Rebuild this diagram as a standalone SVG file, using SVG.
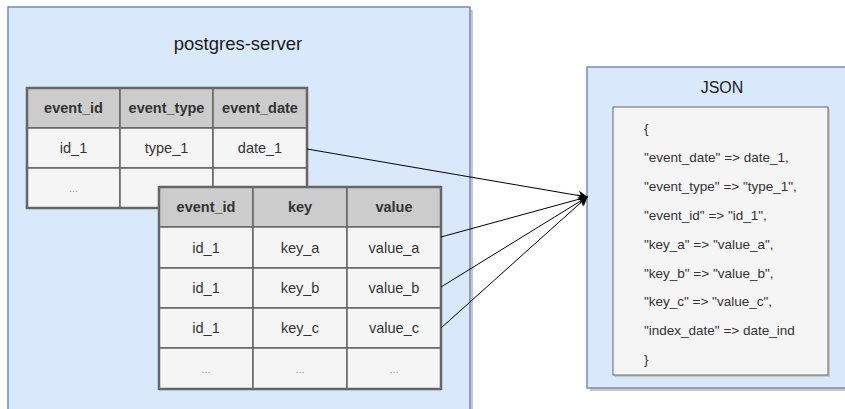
<svg xmlns="http://www.w3.org/2000/svg" width="845" height="409" viewBox="0 0 845 409">
  <style>
    .container { fill: #dae8fc; stroke: #6c8ebf; stroke-width: 1.5; }
    .shadow { fill: #c8c8c8; }
    .hdr { fill: #cccccc; stroke: #666666; stroke-width: 1.5; }
    .cell { fill: #f5f5f5; stroke: #666666; stroke-width: 1.5; }
    .frame { fill: none; stroke: #666666; stroke-width: 2.5; }
    .title { font-family: "Liberation Sans", Arial, sans-serif; fill: #1a1a1a; text-anchor: middle; dominant-baseline: central; }
    .th { font-family: "Liberation Sans", Arial, sans-serif; font-size: 14.5px; font-weight: bold; fill: #333333; text-anchor: middle; dominant-baseline: central; }
    .td { font-family: "Liberation Sans", Arial, sans-serif; font-size: 14.5px; fill: #333333; text-anchor: middle; dominant-baseline: central; }
    .dots { font-family: "Liberation Sans", Arial, sans-serif; font-size: 11px; fill: #999999; text-anchor: middle; dominant-baseline: central; }
    .json { font-family: "Liberation Sans", Arial, sans-serif; font-size: 13.5px; fill: #333333; dominant-baseline: central; }
    .conn { fill: none; stroke: #000000; stroke-width: 1; marker-end: url(#arrow); }
  </style>
  <defs>
    <marker id="arrow" viewBox="0 0 10 10" refX="9" refY="5" markerWidth="10" markerHeight="10" markerUnits="userSpaceOnUse" orient="auto">
      <path d="M0,0 L10,5 L0,10 L3,5 Z" fill="#000000"/>
    </marker>
  </defs>

  <!-- postgres-server container -->
  <g id="postgres-server">
    <rect class="shadow" x="11" y="10" width="462" height="410"/>
    <rect class="container" x="8" y="7" width="462" height="410"/>
    <text class="title" x="238" y="43" font-size="18.5">postgres-server</text>
  </g>

  <!-- events table -->
  <g id="events-table">
    <rect class="hdr" x="27" y="88" width="93" height="40"/>
    <rect class="hdr" x="120" y="88" width="93" height="40"/>
    <rect class="hdr" x="213" y="88" width="94" height="40"/>
    <rect class="cell" x="27" y="128" width="93" height="40"/>
    <rect class="cell" x="120" y="128" width="93" height="40"/>
    <rect class="cell" x="213" y="128" width="94" height="40"/>
    <rect class="cell" x="27" y="168" width="93" height="40"/>
    <rect class="cell" x="120" y="168" width="93" height="40"/>
    <rect class="cell" x="213" y="168" width="94" height="40"/>
    <rect class="frame" x="27" y="88" width="280" height="120"/>
    <text class="th" x="73.5" y="108">event_id</text>
    <text class="th" x="166.5" y="108">event_type</text>
    <text class="th" x="260" y="108">event_date</text>
    <text class="td" x="73.5" y="148">id_1</text>
    <text class="td" x="166.5" y="148">type_1</text>
    <text class="td" x="260" y="148">date_1</text>
    <text class="dots" x="73.5" y="188">...</text>
  </g>

  <!-- key/value table -->
  <g id="kv-table">
    <rect class="hdr" x="159" y="187" width="94" height="40"/>
    <rect class="hdr" x="253" y="187" width="94" height="40"/>
    <rect class="hdr" x="347" y="187" width="94" height="40"/>
    <rect class="cell" x="159" y="227" width="94" height="41"/>
    <rect class="cell" x="253" y="227" width="94" height="41"/>
    <rect class="cell" x="347" y="227" width="94" height="41"/>
    <rect class="cell" x="159" y="268" width="94" height="40"/>
    <rect class="cell" x="253" y="268" width="94" height="40"/>
    <rect class="cell" x="347" y="268" width="94" height="40"/>
    <rect class="cell" x="159" y="308" width="94" height="40"/>
    <rect class="cell" x="253" y="308" width="94" height="40"/>
    <rect class="cell" x="347" y="308" width="94" height="40"/>
    <rect class="cell" x="159" y="348" width="94" height="41"/>
    <rect class="cell" x="253" y="348" width="94" height="41"/>
    <rect class="cell" x="347" y="348" width="94" height="41"/>
    <rect class="frame" x="159" y="187" width="282" height="202"/>
    <text class="th" x="206" y="207">event_id</text>
    <text class="th" x="300" y="207">key</text>
    <text class="th" x="394" y="207">value</text>
    <text class="td" x="206" y="247.5">id_1</text>
    <text class="td" x="300" y="247.5">key_a</text>
    <text class="td" x="394" y="247.5">value_a</text>
    <text class="td" x="206" y="288">id_1</text>
    <text class="td" x="300" y="288">key_b</text>
    <text class="td" x="394" y="288">value_b</text>
    <text class="td" x="206" y="328">id_1</text>
    <text class="td" x="300" y="328">key_c</text>
    <text class="td" x="394" y="328">value_c</text>
    <text class="dots" x="206" y="368.5">...</text>
    <text class="dots" x="300" y="368.5">...</text>
    <text class="dots" x="394" y="368.5">...</text>
  </g>

  <!-- JSON container -->
  <g id="json">
    <rect class="shadow" x="590" y="70" width="270" height="321"/>
    <rect class="container" x="587" y="67" width="270" height="321"/>
    <text class="title" x="722" y="87" font-size="16">JSON</text>
    <rect class="shadow" x="615" y="109" width="215" height="268"/>
    <rect x="613" y="107" width="215" height="268" fill="#f5f5f5" stroke="#666666" stroke-width="1"/>
    <text class="json" x="644" y="128">{</text>
    <text class="json" x="644" y="157">"event_date" =&gt; date_1,</text>
    <text class="json" x="644" y="186">"event_type" =&gt; "type_1",</text>
    <text class="json" x="644" y="215">"event_id" =&gt; "id_1",</text>
    <text class="json" x="644" y="244">"key_a" =&gt; "value_a",</text>
    <text class="json" x="644" y="273">"key_b" =&gt; "value_b",</text>
    <text class="json" x="644" y="301">"key_c" =&gt; "value_c",</text>
    <text class="json" x="644" y="330">"index_date" =&gt; date_ind</text>
    <text class="json" x="644" y="359">}</text>
  </g>

  <!-- connectors -->
  <g id="connectors">
    <path class="conn" d="M307,149 L587,197"/>
    <path class="conn" d="M441,237 L587,197"/>
    <path class="conn" d="M441,287 L587,197"/>
    <path class="conn" d="M441,328 L587,197"/>
  </g>
</svg>
